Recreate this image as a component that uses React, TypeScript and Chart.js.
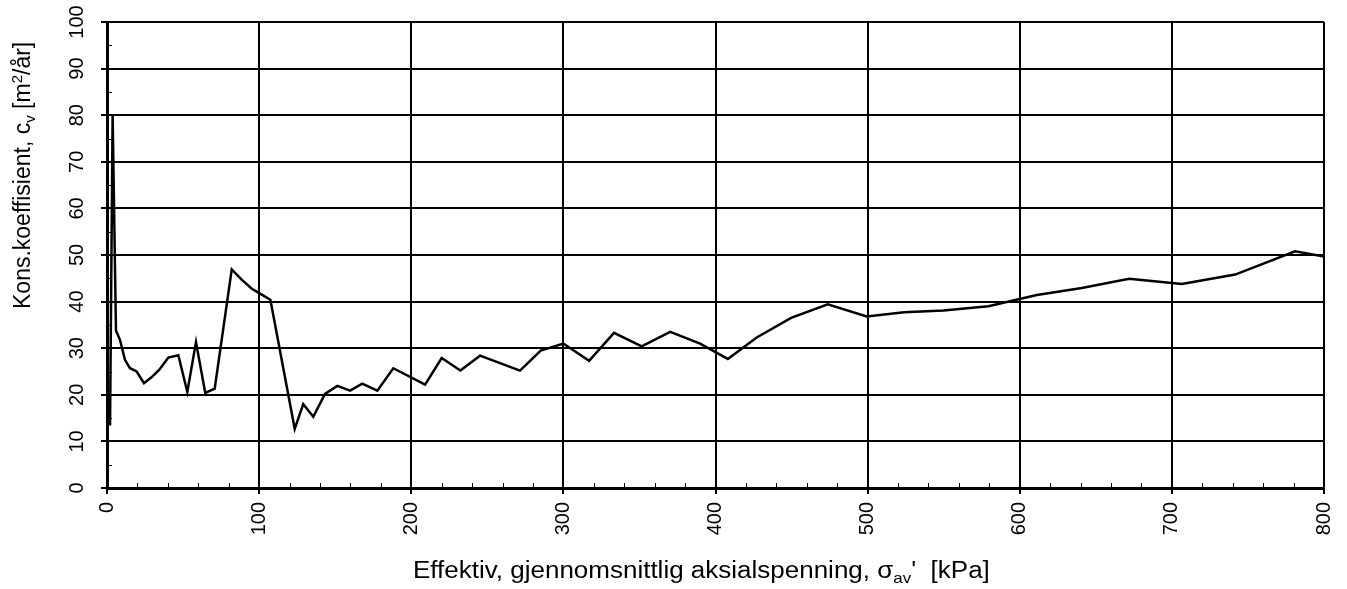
import { useEffect, useRef } from "react";
import { Chart, registerables } from "chart.js";

Chart.register(...registerables);

// Effective mean axial stress [kPa]
const stress = [
  2, 3.7, 5.9, 8.5, 11.8, 15.1, 19.5, 24.3, 29.4, 34.4,
  40.3, 46.9, 52.8, 58.5, 64.6, 70.8, 82, 88.5, 95, 100.6,
  107.4, 123.4, 129, 135.6, 143.3, 151.4, 159.8, 167.8, 177.7, 188.2,
  209.1, 220, 232.3, 245.2, 271.5, 285.1, 300, 316.9, 333.3, 351.5,
  370.2, 389.9, 408.1, 427.1, 449.7, 473.8, 499.4, 524, 549.8, 579.4,
  611.2, 640.8, 671.9, 706.5, 741.6, 781, 800,
];

// Consolidation coefficient cv [m²/år]
const cv = [
  13.4, 80, 33.8, 31.8, 27.5, 25.7, 25, 22.5, 23.8, 25.4,
  28, 28.5, 20.6, 31.3, 20.4, 21.3, 46.9, 44.7, 42.8, 41.7,
  40.4, 12.7, 18, 15.3, 20.2, 21.9, 20.9, 22.4, 20.9, 25.7,
  22.2, 27.9, 25.2, 28.4, 25.2, 29.5, 31, 27.3, 33.3, 30.4,
  33.5, 31, 27.7, 32.3, 36.5, 39.4, 36.8, 37.7, 38.1, 39.0,
  41.4, 42.9, 44.9, 43.8, 45.8, 50.8, 49.7,
];

const xTicks = [0, 100, 200, 300, 400, 500, 600, 700, 800];
const yTicks = [0, 10, 20, 30, 40, 50, 60, 70, 80, 90, 100];
const xMinorStep = 20;
const yMinorStep = 5;

const FONT = '"Liberation Sans", Arial, Helvetica, sans-serif';
const TICK_PX = 20;
const TITLE_PX = 23;
const SUB_PX = 15;
const TITLE_STRETCH = 1.13;

type Seg = { text: string; size: number; dy: number };

function drawRich(ctx: CanvasRenderingContext2D, segs: Seg[], x: number, y: number) {
  let cx = x;
  for (const s of segs) {
    ctx.font = `${s.size}px ${FONT}`;
    ctx.fillText(s.text, cx, y + s.dy);
    cx += ctx.measureText(s.text).width;
  }
}

const xTitle: Seg[] = [
  { text: "Effektiv, gjennomsnittlig aksialspenning, σ", size: TITLE_PX, dy: 0 },
  { text: "av", size: SUB_PX, dy: 5 },
  { text: "'  [kPa]", size: TITLE_PX, dy: 0 },
];

const yTitle: Seg[] = [
  { text: "Kons.koeffisient, c", size: TITLE_PX, dy: 0 },
  { text: "v", size: SUB_PX, dy: 5 },
  { text: " [m", size: TITLE_PX, dy: 0 },
  { text: "2", size: SUB_PX, dy: -8 },
  { text: "/år]", size: TITLE_PX, dy: 0 },
];

const axisText = {
  id: "axisText",
  afterDraw(chart: Chart) {
    const { ctx } = chart;
    const x = chart.scales.x;
    const y = chart.scales.y;
    ctx.save();
    ctx.fillStyle = "#000";
    ctx.strokeStyle = "#000";

    // minor ticks pointing into the plot
    ctx.lineWidth = 1;
    ctx.beginPath();
    for (let v = 0; v <= 800; v += xMinorStep) {
      if (v % 100 === 0) continue;
      const px = Math.round(x.getPixelForValue(v)) + 0.5;
      ctx.moveTo(px, y.bottom);
      ctx.lineTo(px, y.bottom - 5);
    }
    for (let v = 0; v <= 100; v += yMinorStep) {
      if (v % 10 === 0) continue;
      const py = Math.round(y.getPixelForValue(v)) + 0.5;
      ctx.moveTo(x.left, py);
      ctx.lineTo(x.left + 5, py);
    }
    ctx.stroke();

    // x tick labels, rotated
    ctx.font = `${TICK_PX}px ${FONT}`;
    for (const v of xTicks) {
      const px = x.getPixelForValue(v);
      ctx.save();
      ctx.translate(px, y.bottom + 14);
      ctx.rotate(-Math.PI / 2);
      ctx.textAlign = "right";
      ctx.textBaseline = "middle";
      ctx.fillText(String(v), 0, 0);
      ctx.restore();
    }

    // y tick labels, rotated
    for (const v of yTicks) {
      const py = y.getPixelForValue(v);
      ctx.save();
      ctx.translate(77, py);
      ctx.rotate(-Math.PI / 2);
      ctx.textAlign = "center";
      ctx.textBaseline = "middle";
      ctx.fillText(String(v), 0, 0);
      ctx.restore();
    }

    // axis titles
    ctx.textAlign = "left";
    ctx.textBaseline = "alphabetic";
    ctx.save();
    ctx.translate(413, 578);
    ctx.scale(TITLE_STRETCH, 1);
    drawRich(ctx, xTitle, 0, 0);
    ctx.restore();

    ctx.save();
    ctx.translate(30, 309);
    ctx.rotate(-Math.PI / 2);
    drawRich(ctx, yTitle, 0, 0);
    ctx.restore();

    ctx.restore();
  },
};

export default function App() {
  const ref = useRef<HTMLCanvasElement | null>(null);

  useEffect(() => {
    if (!ref.current) return;
    const chart = new Chart(ref.current, {
      type: "line",
      data: {
        datasets: [
          {
            data: stress.map((s, i) => ({ x: s, y: cv[i] })),
            borderColor: "#000",
            borderWidth: 2.5,
            pointRadius: 0,
            tension: 0,
            fill: false,
          },
        ],
      },
      options: {
        animation: false,
        responsive: false,
        devicePixelRatio: 1,
        layout: { padding: { top: 22, right: 23, left: 0, bottom: 0 } },
        plugins: { legend: { display: false }, tooltip: { enabled: false } },
        scales: {
          x: {
            type: "linear",
            min: 0,
            max: 800,
            afterBuildTicks: (s: any) => {
              s.ticks = xTicks.map((v) => ({ value: v }));
            },
            afterFit: (s: any) => {
              s.height = 101;
            },
            ticks: { display: false },
            grid: { color: "#000", lineWidth: 2, drawTicks: true, tickLength: 6 },
            border: { display: true, color: "#000", width: 3 },
          },
          y: {
            type: "linear",
            min: 0,
            max: 100,
            afterBuildTicks: (s: any) => {
              s.ticks = yTicks.map((v) => ({ value: v }));
            },
            afterFit: (s: any) => {
              s.width = 107;
            },
            ticks: { display: false },
            grid: { color: "#000", lineWidth: 2, drawTicks: true, tickLength: 6 },
            border: { display: true, color: "#000", width: 3 },
          },
        },
      },
      plugins: [axisText],
    });
    return () => chart.destroy();
  }, []);

  return (
    <div style={{ position: "absolute", left: 0, top: 0, width: 1347, height: 589, background: "#fff" }}>
      <canvas ref={ref} width={1347} height={589} />
    </div>
  );
}
